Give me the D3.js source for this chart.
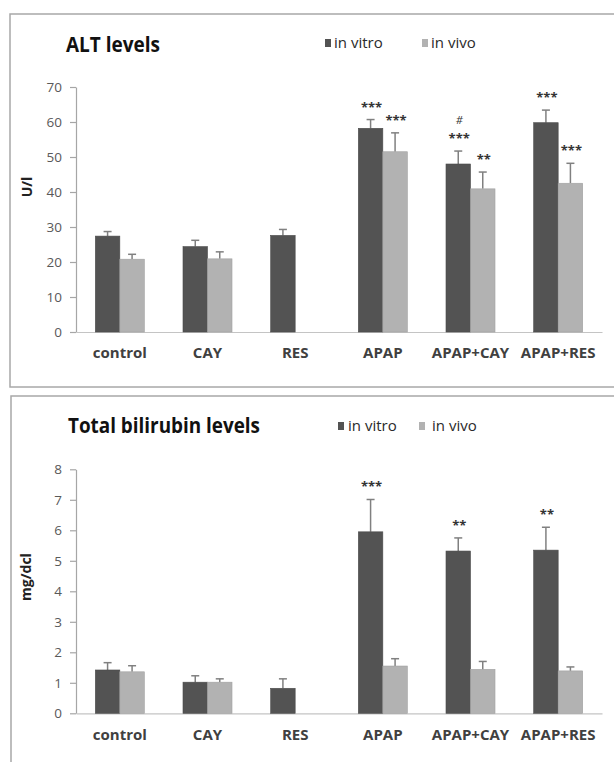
<!DOCTYPE html>
<html>
<head>
<meta charset="utf-8">
<script src="https://cdn.jsdelivr.net/npm/d3@7"></script>
<style>
  html, body { margin: 0; padding: 0; background: #fff; }
  svg { display: block; }
  text { font-family: "Open Sans", "Liberation Sans", sans-serif; }
</style>
</head>
<body>
<svg id="chart" width="614" height="762"></svg>
<script>
// ---------- data ----------
const categories = ["control", "CAY", "RES", "APAP", "APAP+CAY", "APAP+RES"];
const seriesNames = ["in vitro", "in vivo"];

// ALT levels (U/l)
const altVitro = [27.4, 24.4, 27.6, 58.2, 48.0, 59.8];
const altVitroErr = [1.3, 1.8, 1.7, 2.5, 3.7, 3.6];
const altVivo = [20.8, 20.9, null, 51.5, 40.9, 42.5];
const altVivoErr = [1.4, 2.0, null, 5.4, 4.8, 5.7];
const altVitroSig = ["", "", "", "***", "***", "***"];
const altVitroSig2 = ["", "", "", "", "#", ""];
const altVivoSig = ["", "", "", "***", "**", "***"];
const altTicks = [0, 10, 20, 30, 40, 50, 60, 70];

// Total bilirubin levels (mg/dcl)
const bilVitro = [1.42, 1.02, 0.82, 5.95, 5.32, 5.35];
const bilVitroErr = [0.24, 0.21, 0.31, 1.06, 0.43, 0.75];
const bilVivo = [1.36, 1.02, null, 1.55, 1.44, 1.39];
const bilVivoErr = [0.20, 0.11, null, 0.24, 0.26, 0.13];
const bilVitroSig = ["", "", "", "***", "**", "**"];
const bilVitroSig2 = ["", "", "", "", "", ""];
const bilVivoSig = ["", "", "", "", "", ""];
const bilTicks = [0, 1, 2, 3, 4, 5, 6, 7, 8];

// ---------- style ----------
const colDark = "#535353";
const colLight = "#b2b2b2";
const colErr = "#808080";
const colAxis = "#a6a6a6";
const colText = "#404040";
const colTick = "#595959";

const svg = d3.select("#chart");

function panel(cfg) {
  const g = svg.append("g");
  // frame
  g.append("rect")
    .attr("x", cfg.frame[0]).attr("y", cfg.frame[1])
    .attr("width", cfg.frame[2]).attr("height", cfg.frame[3])
    .attr("fill", "none").attr("stroke", "#a8a8a8").attr("stroke-width", 1.5);

  const x = d3.scaleBand().domain(categories).range([76, 602])
    .paddingInner(0.441).paddingOuter(0.2205);
  const xs = d3.scaleBand().domain(seriesNames).range([0, x.bandwidth()]);
  const y = d3.scaleLinear().domain([0, cfg.max]).range([cfg.y0, cfg.yTop]);

  // y axis
  const yAxis = d3.axisLeft(y).tickValues(cfg.ticks).tickSize(6).tickPadding(8).tickSizeOuter(0);
  const ya = g.append("g").attr("transform", "translate(76,0)").call(yAxis);
  ya.select(".domain").attr("stroke", colAxis).attr("stroke-width", 1.2);
  ya.selectAll(".tick line").attr("stroke", colAxis).attr("stroke-width", 1.2);
  ya.selectAll(".tick text").attr("fill", colTick).style("font-size", "13.5px")
    .style("font-family", "'Open Sans', sans-serif");

  // x axis baseline
  const xAxis = d3.axisBottom(x).tickSize(0).tickPadding(cfg.xLabelPad).tickSizeOuter(0);
  const xa = g.append("g").attr("transform", `translate(0,${cfg.y0})`).call(xAxis);
  xa.select(".domain").attr("stroke", "#c4c4c4").attr("stroke-width", 1.2);
  xa.selectAll(".tick text").attr("fill", colText).style("font-size", "15px")
    .style("font-weight", "bold").style("font-family", "'Open Sans', sans-serif");

  const series = [
    { name: "in vitro", vals: cfg.vitro, errs: cfg.vitroErr, sig: cfg.vitroSig, sig2: cfg.vitroSig2, color: colDark },
    { name: "in vivo", vals: cfg.vivo, errs: cfg.vivoErr, sig: cfg.vivoSig, sig2: null, color: colLight }
  ];

  series.forEach(s => {
    const data = categories.map((c, i) => ({ c, v: s.vals[i], e: s.errs[i], sig: s.sig[i], sig2: s.sig2 ? s.sig2[i] : "" }))
      .filter(d => d.v != null);
    const gx = d => x(d.c) + xs(s.name);
    const bw = xs.bandwidth();
    // error bars (upper only)
    g.selectAll(null).data(data).enter().append("line")
      .attr("x1", d => gx(d) + bw / 2).attr("x2", d => gx(d) + bw / 2)
      .attr("y1", d => y(d.v)).attr("y2", d => y(d.v + d.e))
      .attr("stroke", colErr).attr("stroke-width", 1.5);
    g.selectAll(null).data(data).enter().append("line")
      .attr("x1", d => gx(d) + bw / 2 - 4).attr("x2", d => gx(d) + bw / 2 + 4)
      .attr("y1", d => y(d.v + d.e)).attr("y2", d => y(d.v + d.e))
      .attr("stroke", colErr).attr("stroke-width", 1.5);
    // bars
    g.selectAll(null).data(data).enter().append("rect")
      .attr("x", d => gx(d)).attr("width", bw)
      .attr("y", d => y(d.v)).attr("height", d => cfg.y0 - y(d.v))
      .attr("fill", s.color).attr("stroke", d3.color(s.color).darker(0.3)).attr("stroke-width", 0.6);
    // significance marks
    g.selectAll(null).data(data.filter(d => d.sig)).enter().append("text")
      .attr("x", d => gx(d) + bw / 2 + 1).attr("y", d => y(d.v + d.e) - 16 + 8)
      .attr("text-anchor", "middle").attr("fill", "#333")
      .style("font-size", "13px").style("font-weight", "bold").text(d => d.sig);
    g.selectAll(null).data(data.filter(d => d.sig2)).enter().append("text")
      .attr("x", d => gx(d) + bw / 2 + 1).attr("y", d => y(d.v + d.e) - 31 + 4)
      .attr("text-anchor", "middle").attr("fill", "#333")
      .style("font-size", "11px").style("font-style", "italic").text(d => d.sig2);
  });

  // title
  g.append("text").attr("x", cfg.titleX).attr("y", cfg.titleY)
    .attr("fill", "#111").style("font-size", "22px").style("font-weight", "bold")
    .attr("textLength", cfg.titleLen).attr("lengthAdjust", "spacingAndGlyphs")
    .text(cfg.title);

  // legend
  const leg = [{ n: seriesNames[0], c: colDark, sx: cfg.leg[0], tx: cfg.leg[1] },
               { n: seriesNames[1], c: colLight, sx: cfg.leg[2], tx: cfg.leg[3] }];
  leg.forEach(l => {
    g.append("rect").attr("x", l.sx).attr("y", cfg.legY - 9).attr("width", 6).attr("height", 8).attr("fill", l.c);
    g.append("text").attr("x", l.tx).attr("y", cfg.legY).attr("fill", "#2a2a2a")
      .style("font-size", "15px").text(l.n);
  });

  // y label
  g.append("text")
    .attr("transform", `translate(${cfg.yLabelX},${cfg.yLabelY}) rotate(-90)`)
    .attr("text-anchor", "middle").attr("fill", "#222")
    .style("font-size", "14px").style("font-weight", "bold").text(cfg.yLabel);
}

panel({
  frame: [10, 14, 620, 373],
  max: 70, y0: 332, yTop: 87, ticks: altTicks, xLabelPad: 15,
  vitro: altVitro, vitroErr: altVitroErr, vivo: altVivo, vivoErr: altVivoErr,
  vitroSig: altVitroSig, vitroSig2: altVitroSig2, vivoSig: altVivoSig,
  title: "ALT levels", titleX: 66, titleY: 52, titleLen: 94,
  leg: [325, 334, 422, 431], legY: 48,
  yLabel: "U/l", yLabelX: 32, yLabelY: 187
});

panel({
  frame: [11, 396, 620, 380],
  max: 8, y0: 713.3, yTop: 469.3, ticks: bilTicks, xLabelPad: 16,
  vitro: bilVitro, vitroErr: bilVitroErr, vivo: bilVivo, vivoErr: bilVivoErr,
  vitroSig: bilVitroSig, vitroSig2: bilVitroSig2, vivoSig: bilVivoSig,
  title: "Total bilirubin levels", titleX: 68, titleY: 433, titleLen: 192,
  leg: [338, 348, 419, 432], legY: 431,
  yLabel: "mg/dcl", yLabelX: 31, yLabelY: 577
});
</script>
</body>
</html>
